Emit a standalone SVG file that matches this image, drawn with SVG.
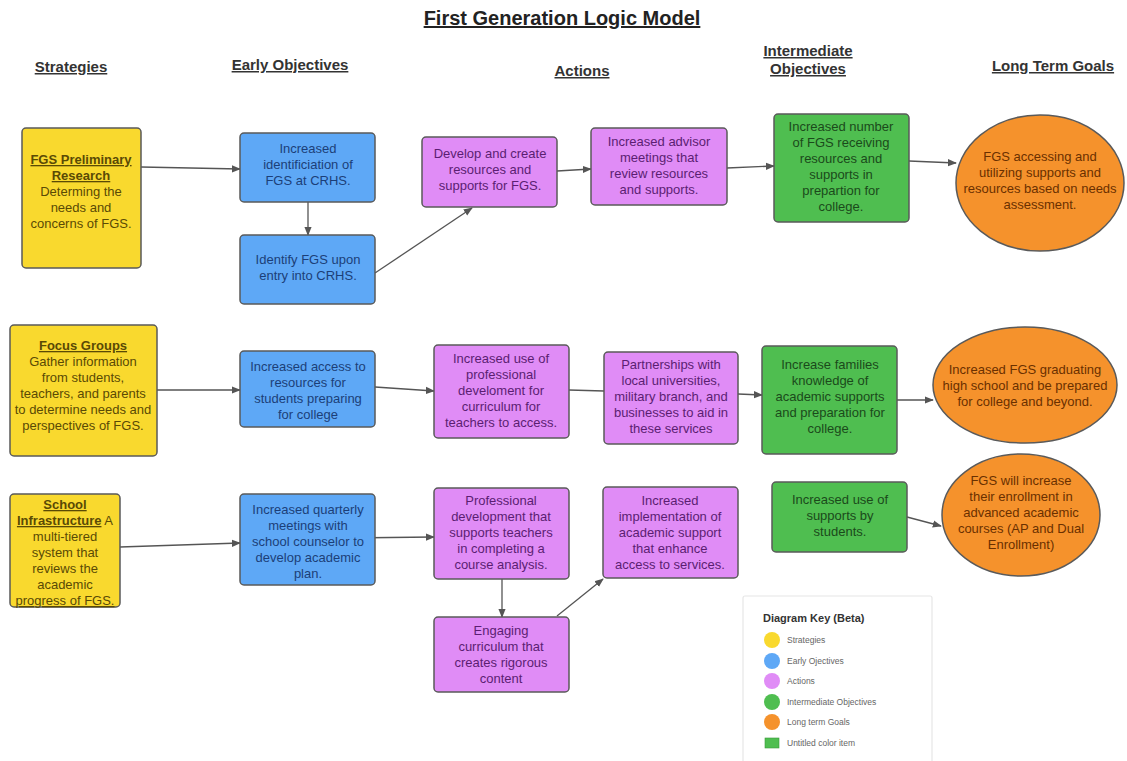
<svg xmlns="http://www.w3.org/2000/svg" width="1127" height="761" viewBox="0 0 1127 761">
  <style>
    text { font-family: "Liberation Sans", Arial, sans-serif; }
    .title { font-size: 20px; font-weight: bold; fill: #222; text-decoration: underline; }
    .hdr { font-size: 15px; font-weight: bold; fill: #333; text-decoration: underline; }
    .box { stroke: #5a5a5a; stroke-width: 1.5; }
    .t { font-size: 13px; text-anchor: middle; }
    .b { font-weight: bold; text-decoration: underline; }
    .u { text-decoration: underline; }
    .strat { fill: #f9d92e; }
    .strat-t { fill: #5a4a05; }
    .early { fill: #5ea8f6; }
    .early-t { fill: #1c3f78; }
    .act { fill: #e08cf6; }
    .act-t { fill: #5b1e72; }
    .mid { fill: #4fbe50; }
    .mid-t { fill: #1b4a1b; }
    .goal { fill: #f5922c; }
    .goal-t { fill: #6a3000; }
    .conn { stroke: #555; stroke-width: 1.3; fill: none; }
    .key-t { font-size: 8.5px; fill: #666; }
  </style>
  <defs>
    <marker id="arr" viewBox="0 0 10 10" refX="9" refY="5" markerWidth="7" markerHeight="7" orient="auto">
      <path d="M0,1 L10,5 L0,9 z" fill="#555"/>
    </marker>
  </defs>

  <rect width="1127" height="761" fill="#ffffff"/>

  <!-- headings -->
  <g id="headings">
    <text class="title" x="562" y="25" text-anchor="middle">First Generation Logic Model</text>
    <text class="hdr" x="71" y="72" text-anchor="middle">Strategies</text>
    <text class="hdr" x="290" y="70" text-anchor="middle">Early Objectives</text>
    <text class="hdr" x="582" y="76" text-anchor="middle">Actions</text>
    <text class="hdr" x="808" y="56" text-anchor="middle">Intermediate</text>
    <text class="hdr" x="808" y="74" text-anchor="middle">Objectives</text>
    <text class="hdr" x="1053" y="71" text-anchor="middle">Long Term Goals</text>
  </g>

  <!-- connectors -->
  <g id="connectors">
    <path class="conn" d="M141,167 L240,169" marker-end="url(#arr)"/>
    <path class="conn" d="M308,202 L308,235" marker-end="url(#arr)"/>
    <path class="conn" d="M375,273 L472,208" marker-end="url(#arr)"/>
    <path class="conn" d="M557,171 L591,169" marker-end="url(#arr)"/>
    <path class="conn" d="M727,168 L774,166" marker-end="url(#arr)"/>
    <path class="conn" d="M909,161 L956,163" marker-end="url(#arr)"/>
    <path class="conn" d="M157,390 L240,390" marker-end="url(#arr)"/>
    <path class="conn" d="M375,387 L434,391" marker-end="url(#arr)"/>
    <path class="conn" d="M569,390 L604,391"/>
    <path class="conn" d="M738,394 L762,395" marker-end="url(#arr)"/>
    <path class="conn" d="M897,400 L933,400" marker-end="url(#arr)"/>
    <path class="conn" d="M120,547 L240,543" marker-end="url(#arr)"/>
    <path class="conn" d="M346,538 L434,537" marker-end="url(#arr)"/>
    <path class="conn" d="M502,579 L502,617" marker-end="url(#arr)"/>
    <path class="conn" d="M557,616 L603,579" marker-end="url(#arr)"/>
    <path class="conn" d="M907,517 L941,526" marker-end="url(#arr)"/>
  </g>

  <!-- row 1 -->
  <g id="strategy-research">
    <rect class="box strat" x="22" y="128" width="119" height="140" rx="4"/>
    <text class="t strat-t"><tspan class="b" x="81" y="164">FGS Preliminary</tspan><tspan class="b" x="81" y="180">Research</tspan><tspan x="81" y="196">Determing the</tspan><tspan x="81" y="212">needs and</tspan><tspan x="81" y="228">concerns of FGS.</tspan></text>
  </g>
  <g id="early-identification">
    <rect class="box early" x="240" y="133" width="135" height="69" rx="4"/>
    <text class="t early-t"><tspan x="308" y="153">Increased</tspan><tspan x="308" y="169">identificiation of</tspan><tspan x="308" y="185">FGS at CRHS.</tspan></text>
  </g>
  <g id="early-entry">
    <rect class="box early" x="240" y="235" width="135" height="69" rx="4"/>
    <text class="t early-t"><tspan x="308" y="264">Identify FGS upon</tspan><tspan x="308" y="280">entry into CRHS.</tspan></text>
  </g>
  <g id="action-develop">
    <rect class="box act" x="422" y="137" width="135" height="70" rx="4"/>
    <text class="t act-t"><tspan x="490" y="158">Develop and create</tspan><tspan x="490" y="174">resources and</tspan><tspan x="490" y="190">supports for FGS.</tspan></text>
  </g>
  <g id="action-advisor">
    <rect class="box act" x="591" y="128" width="136" height="77" rx="4"/>
    <text class="t act-t"><tspan x="659" y="146">Increased advisor</tspan><tspan x="659" y="162">meetings that</tspan><tspan x="659" y="178">review resources</tspan><tspan x="659" y="194">and supports.</tspan></text>
  </g>
  <g id="mid-receiving">
    <rect class="box mid" x="774" y="114" width="135" height="108" rx="4"/>
    <text class="t mid-t"><tspan x="841" y="131">Increased number</tspan><tspan x="841" y="147">of FGS receiving</tspan><tspan x="841" y="163">resources and</tspan><tspan x="841" y="179">supports in</tspan><tspan x="841" y="195">prepartion for</tspan><tspan x="841" y="211">college.</tspan></text>
  </g>
  <g id="goal-accessing">
    <ellipse class="box goal" cx="1040" cy="183" rx="84" ry="68"/>
    <text class="t goal-t"><tspan x="1040" y="161">FGS accessing and</tspan><tspan x="1040" y="177">utilizing supports and</tspan><tspan x="1040" y="193">resources based on needs</tspan><tspan x="1040" y="209">assessment.</tspan></text>
  </g>

  <!-- row 2 -->
  <g id="strategy-focus">
    <rect class="box strat" x="10" y="325" width="147" height="131" rx="4"/>
    <text class="t strat-t"><tspan class="b" x="83" y="350">Focus Groups</tspan><tspan x="83" y="366">Gather information</tspan><tspan x="83" y="382">from students,</tspan><tspan x="83" y="398">teachers, and parents</tspan><tspan x="83" y="414">to determine needs and</tspan><tspan x="83" y="430">perspectives of FGS.</tspan></text>
  </g>
  <g id="early-access">
    <rect class="box early" x="240" y="351" width="135" height="76" rx="4"/>
    <text class="t early-t"><tspan x="308" y="371">Increased access to</tspan><tspan x="308" y="387">resources for</tspan><tspan x="308" y="403">students preparing</tspan><tspan x="308" y="419">for college</tspan></text>
  </g>
  <g id="action-pd-use">
    <rect class="box act" x="434" y="345" width="135" height="93" rx="4"/>
    <text class="t act-t"><tspan x="501" y="363">Increased use of</tspan><tspan x="501" y="379">professional</tspan><tspan x="501" y="395">develoment for</tspan><tspan x="501" y="411">curriculum for</tspan><tspan x="501" y="427">teachers to access.</tspan></text>
  </g>
  <g id="action-partnerships">
    <rect class="box act" x="604" y="352" width="134" height="92" rx="4"/>
    <text class="t act-t"><tspan x="671" y="369">Partnerships with</tspan><tspan x="671" y="385">local universities,</tspan><tspan x="671" y="401">military branch, and</tspan><tspan x="671" y="417">businesses to aid in</tspan><tspan x="671" y="433">these services</tspan></text>
  </g>
  <g id="mid-families">
    <rect class="box mid" x="762" y="346" width="135" height="108" rx="4"/>
    <text class="t mid-t"><tspan x="830" y="369">Increase families</tspan><tspan x="830" y="385">knowledge of</tspan><tspan x="830" y="401">academic supports</tspan><tspan x="830" y="417">and preparation for</tspan><tspan x="830" y="433">college.</tspan></text>
  </g>
  <g id="goal-graduating">
    <ellipse class="box goal" cx="1025" cy="385" rx="92" ry="58"/>
    <text class="t goal-t"><tspan x="1025" y="374">Increased FGS graduating</tspan><tspan x="1025" y="390">high school and be prepared</tspan><tspan x="1025" y="406">for college and beyond.</tspan></text>
  </g>

  <!-- row 3 -->
  <g id="strategy-infrastructure">
    <rect class="box strat" x="10" y="494" width="110" height="113" rx="4"/>
    <text class="t strat-t"><tspan class="b" x="65" y="509">School</tspan><tspan x="65" y="525"><tspan class="b">Infrastructure</tspan> A</tspan><tspan x="65" y="541">multi-tiered</tspan><tspan x="65" y="557">system that</tspan><tspan x="65" y="573">reviews the</tspan><tspan x="65" y="589">academic</tspan><tspan class="u" x="65" y="605">progress of FGS.</tspan></text>
  </g>
  <g id="early-quarterly">
    <rect class="box early" x="240" y="494" width="135" height="91" rx="4"/>
    <text class="t early-t"><tspan x="308" y="514">Increased quarterly</tspan><tspan x="308" y="530">meetings with</tspan><tspan x="308" y="546">school counselor to</tspan><tspan x="308" y="562">develop academic</tspan><tspan x="308" y="578">plan.</tspan></text>
  </g>
  <g id="action-course-analysis">
    <rect class="box act" x="434" y="488" width="135" height="91" rx="4"/>
    <text class="t act-t"><tspan x="501" y="505">Professional</tspan><tspan x="501" y="521">development that</tspan><tspan x="501" y="537">supports teachers</tspan><tspan x="501" y="553">in completing a</tspan><tspan x="501" y="569">course analysis.</tspan></text>
  </g>
  <g id="action-implementation">
    <rect class="box act" x="603" y="487" width="135" height="91" rx="4"/>
    <text class="t act-t"><tspan x="670" y="505">Increased</tspan><tspan x="670" y="521">implementation of</tspan><tspan x="670" y="537">academic support</tspan><tspan x="670" y="553">that enhance</tspan><tspan x="670" y="569">access to services.</tspan></text>
  </g>
  <g id="action-curriculum">
    <rect class="box act" x="434" y="617" width="135" height="75" rx="4"/>
    <text class="t act-t"><tspan x="501" y="635">Engaging</tspan><tspan x="501" y="651">curriculum that</tspan><tspan x="501" y="667">creates rigorous</tspan><tspan x="501" y="683">content</tspan></text>
  </g>
  <g id="mid-supports-use">
    <rect class="box mid" x="772" y="482" width="135" height="70" rx="4"/>
    <text class="t mid-t"><tspan x="840" y="504">Increased use of</tspan><tspan x="840" y="520">supports by</tspan><tspan x="840" y="536">students.</tspan></text>
  </g>
  <g id="goal-enrollment">
    <ellipse class="box goal" cx="1021" cy="515" rx="79" ry="61"/>
    <text class="t goal-t"><tspan x="1021" y="485">FGS will increase</tspan><tspan x="1021" y="501">their enrollment in</tspan><tspan x="1021" y="517">advanced academic</tspan><tspan x="1021" y="533">courses (AP and Dual</tspan><tspan x="1021" y="549">Enrollment)</tspan></text>
  </g>

  <!-- colour key -->
  <g id="diagram-key">
    <rect x="743" y="596" width="189" height="175" fill="#ffffff" stroke="#e6e6e6" stroke-width="1.2" rx="2"/>
    <text x="763" y="622" font-size="11" font-weight="bold" fill="#333">Diagram Key (Beta)</text>
    <circle cx="772" cy="640" r="8" fill="#f9d92e"/>
    <text class="key-t" x="787" y="643">Strategies</text>
    <circle cx="772" cy="661" r="8" fill="#5ea8f6"/>
    <text class="key-t" x="787" y="664">Early Ojectives</text>
    <circle cx="772" cy="681" r="8" fill="#e08cf6"/>
    <text class="key-t" x="787" y="684">Actions</text>
    <circle cx="772" cy="702" r="8" fill="#4fbe50"/>
    <text class="key-t" x="787" y="705">Intermediate Objectives</text>
    <circle cx="772" cy="722" r="8" fill="#f5922c"/>
    <text class="key-t" x="787" y="725">Long term Goals</text>
    <rect x="765" y="738" width="14" height="10" fill="#4fbe50" stroke="#3a9a3a" stroke-width="0.6"/>
    <text class="key-t" x="787" y="746">Untitled color item</text>
  </g>
</svg>
